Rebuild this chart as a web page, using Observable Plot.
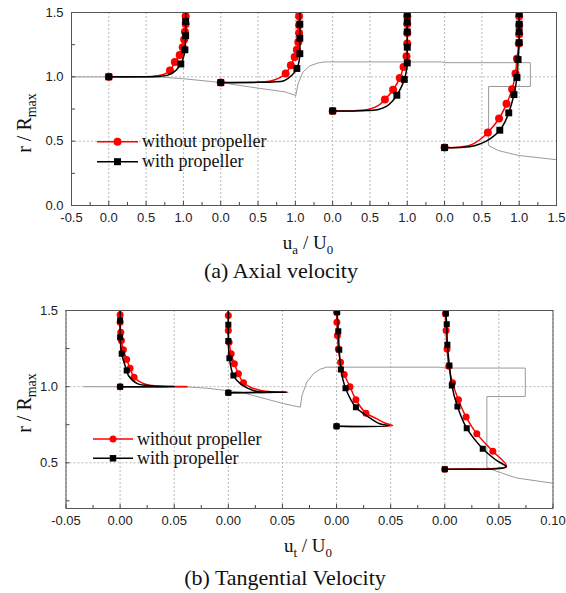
<!DOCTYPE html>
<html><head><meta charset="utf-8">
<script src="https://cdn.jsdelivr.net/npm/d3@7"></script>
<script src="https://cdn.jsdelivr.net/npm/@observablehq/plot@0.6"></script>
<style>
body{margin:0;background:#fff;}
#wrap{position:relative;width:566px;height:593px;overflow:hidden;background:#fff;}
#wrap .panel{position:absolute;left:0;}
#overlay{position:absolute;left:0;top:0;pointer-events:none;}
#overlay text{font-family:'Liberation Serif','Times New Roman',serif;fill:#111;}
</style></head><body><div id="wrap"></div>
<script>
// ---------- tick values & labels ----------
const xTicksA = [-0.5, 0, 0.5, 1.0, 1.5, 2.0, 2.5, 3.0, 3.5, 4.0, 4.5, 5.0, 5.5, 6.0];
const xLabelsA = ["-0.5","0.0","0.5","1.0","0.0","0.5","1.0","0.0","0.5","1.0","0.0","0.5","1.0","1.5"];
const xMinorA = [-0.25,0.25,0.75,1.25,1.75,2.25,2.75,3.25,3.75,4.25,4.75,5.25,5.75];
const yTicksA = [0, 0.5, 1.0, 1.5];
const yMinorA = [0.25, 0.75, 1.25];
const xTicksB = [-0.05, 0, 0.05, 0.10, 0.15, 0.20, 0.25, 0.30, 0.35, 0.40];
const xLabelsB = ["-0.05","0.00","0.05","0.00","0.05","0.00","0.05","0.00","0.05","0.10"];
const xMinorB = [-0.025,0.025,0.075,0.125,0.175,0.225,0.275,0.325,0.375];
const yTicksB = [0.5, 1.0, 1.5];
const yMinorB = [0.25, 0.75, 1.25];

// station origins along each panel's x axis
const stationA = [0, 1.5, 3.0, 4.5];
const stationB = [0, 0.1, 0.2, 0.3];

// ---------- (a) axial velocity: [station, u_a/U0, r/Rmax, marker] ----------
const axialWithout = [
 [0,0,1.0,1],[0,0.4,1.0,0],[0,0.6,1.005,0],[0,0.74,1.02,0],[0,0.82,1.05,1],[0,0.885,1.115,1],[0,0.95,1.17,1],[0,0.99,1.23,1],[0,1.01,1.29,1],[0,1.02,1.35,1],[0,1.03,1.41,1],[0,1.03,1.47,1],[0,1.03,1.5,0],
 [1,0,0.955,1],[1,0.45,0.957,0],[1,0.65,0.965,0],[1,0.78,0.99,0],[1,0.87,1.025,1],[1,0.94,1.09,1],[1,0.99,1.155,1],[1,1.02,1.21,1],[1,1.04,1.27,1],[1,1.05,1.34,1],[1,1.05,1.40,1],[1,1.05,1.47,1],[1,1.05,1.5,0],
 [2,0,0.735,1],[2,0.3,0.737,0],[2,0.5,0.75,0],[2,0.62,0.78,0],[2,0.70,0.823,1],[2,0.81,0.90,1],[2,0.90,0.99,1],[2,0.95,1.077,1],[2,0.99,1.16,1],[2,1.0,1.26,1],[2,1.0,1.34,1],[2,1.0,1.41,1],[2,1.0,1.47,1],[2,1.0,1.5,0],
 [3,0,0.45,1],[3,0.18,0.452,0],[3,0.35,0.47,0],[3,0.48,0.515,0],[3,0.58,0.567,1],[3,0.73,0.676,1],[3,0.83,0.79,1],[3,0.905,0.904,1],[3,0.95,1.025,1],[3,0.97,1.14,1],[3,0.995,1.26,1],[3,1.0,1.33,1],[3,1.0,1.40,1],[3,1.0,1.47,1],[3,1.0,1.5,0]
];
const axialWith = [
 [0,0,1.0,1],[0,0.4,1.0,0],[0,0.65,1.002,0],[0,0.8,1.015,0],[0,0.9,1.05,0],[0,0.965,1.10,1],[0,1.0,1.15,0],[0,1.02,1.21,1],[0,1.03,1.32,1],[0,1.03,1.43,1],[0,1.03,1.5,0],
 [1,0,0.955,1],[1,0.5,0.957,0],[1,0.7,0.96,0],[1,0.85,0.97,0],[1,0.95,1.01,0],[1,1.02,1.065,1],[1,1.05,1.12,0],[1,1.06,1.18,1],[1,1.06,1.30,1],[1,1.06,1.41,1],[1,1.06,1.5,0],
 [2,0,0.735,1],[2,0.4,0.737,0],[2,0.6,0.745,0],[2,0.72,0.77,0],[2,0.8,0.81,0],[2,0.86,0.857,1],[2,0.92,0.92,0],[2,0.96,0.98,1],[2,0.99,1.05,0],[2,1.0,1.108,1],[2,1.0,1.23,1],[2,1.0,1.35,1],[2,1.0,1.427,1],[2,1.0,1.486,1],[2,1.0,1.5,0],
 [3,0,0.45,1],[3,0.25,0.452,0],[3,0.4,0.465,0],[3,0.54,0.495,0],[3,0.65,0.535,0],[3,0.74,0.585,1],[3,0.81,0.65,0],[3,0.86,0.72,1],[3,0.93,0.862,1],[3,0.97,0.995,1],[3,0.985,1.134,1],[3,1.0,1.266,1],[3,1.0,1.35,1],[3,1.0,1.41,1],[3,1.0,1.49,1],[3,1.0,1.5,0]
];
// hull / propeller outline in panel (a) x units: [x, r/Rmax]
const hullA = [
 [-0.5,1.0],[0.7,0.998],[1.0,0.985],[1.47,0.958],[2.0,0.912],[2.36,0.883],[2.506,0.855],[2.537,0.948],[2.604,1.038],[2.694,1.085],[2.805,1.108],[2.895,1.116],[4.46,1.116],[4.5,1.11],[5.65,1.11],[5.65,0.925],[5.09,0.925],[5.09,0.466],[5.22,0.427],[5.49,0.389],[6.0,0.356]
];

// ---------- (b) tangential velocity: [station, u_t/U0, r/Rmax, marker] ----------
const tangWithout = [
 [0,0,1.0,1],[0,0.062,1.0,0],[0,0.04,1.003,0],[0,0.025,1.012,0],[0,0.0129,1.062,1],[0,0.0092,1.121,1],[0,0.0061,1.178,1],[0,0.003,1.242,1],[0,0.0012,1.303,1],[0,0.0006,1.358,1],[0,0.0,1.423,1],[0,0.0,1.472,1],[0,0.0,1.5,0],
 [1,0,0.96,1],[1,0.055,0.963,0],[1,0.04,0.966,0],[1,0.03,0.975,0],[1,0.02,0.998,0],[1,0.014,1.025,1],[1,0.0093,1.084,1],[1,0.0056,1.15,1],[1,0.0026,1.216,1],[1,0.0007,1.292,1],[1,0.0,1.369,1],[1,0.0,1.467,1],[1,0.0,1.5,0],
 [2,0,0.74,1],[2,0.052,0.745,0],[2,0.045,0.76,0],[2,0.037,0.79,0],[2,0.0272,0.826,1],[2,0.0179,0.914,1],[2,0.0124,1.0,1],[2,0.0071,1.08,1],[2,0.0037,1.161,1],[2,0.0016,1.248,1],[2,0.0008,1.336,1],[2,0.0003,1.423,1],[2,0.0,1.489,1],[2,0.0,1.5,0],
 [3,0,0.458,1],[3,0.02,0.46,0],[3,0.045,0.463,0],[3,0.057,0.478,0],[3,0.0444,0.576,1],[3,0.0296,0.69,1],[3,0.0197,0.80,1],[3,0.0126,0.914,1],[3,0.0072,1.025,1],[3,0.0037,1.134,1],[3,0.0021,1.248,1],[3,0.0012,1.369,1],[3,0.0006,1.478,1],[3,0.0006,1.5,0]
];
const tangWith = [
 [0,0,1.0,1],[0,0.05,1.0,0],[0,0.03,1.005,0],[0,0.016,1.02,0],[0,0.008,1.07,0],[0,0.0061,1.106,1],[0,0.0015,1.216,1],[0,0.0,1.325,1],[0,0.0,1.434,1],[0,0.0,1.5,0],
 [1,0,0.96,1],[1,0.054,0.963,0],[1,0.035,0.966,0],[1,0.023,0.975,0],[1,0.011,1.02,0],[1,0.0047,1.073,1],[1,0.001,1.187,1],[1,0.0,1.30,1],[1,0.0,1.406,1],[1,0.0,1.5,0],
 [2,0,0.74,1],[2,0.049,0.743,0],[2,0.04,0.756,0],[2,0.0277,0.81,0],[2,0.0179,0.865,1],[2,0.0083,0.99,1],[2,0.004,1.113,1],[2,0.0025,1.242,1],[2,0.0016,1.364,1],[2,0.0006,1.489,1],[2,0.0006,1.5,0],
 [3,0,0.458,1],[3,0.03,0.458,0],[3,0.05,0.462,0],[3,0.0567,0.474,0],[3,0.047,0.52,0],[3,0.0351,0.592,1],[3,0.0203,0.727,1],[3,0.0117,0.87,1],[3,0.0065,1.008,1],[3,0.0043,1.139,1],[3,0.0024,1.275,1],[3,0.0018,1.41,1],[3,0.001,1.48,1],[3,0.001,1.5,0]
];
const hullB = [
 [-0.0335,1.0],[0.062,0.998],[0.08,0.99],[0.1113,0.964],[0.1513,0.888],[0.1665,0.865],[0.168,0.94],[0.1725,1.03],[0.1787,1.085],[0.185,1.115],[0.191,1.128],[0.2958,1.128],[0.3,1.122],[0.3744,1.122],[0.3744,0.935],[0.3389,0.935],[0.3389,0.471],[0.3482,0.443],[0.3666,0.40],[0.40,0.366]
];

function panel(o) {
  const W = 566;
  const pw = W - o.ml - o.mr, ph = o.height - o.mt - o.mb;
  const conv = rows => rows.map(([s,u,r,m]) => ({x: o.stations[s] + u, r, s, m}));
  const withP = conv(o.withP), withoutP = conv(o.withoutP);
  const hull = o.hull.map(([x,r]) => ({x, r}));
  return Plot.plot({
    width: W, height: o.height,
    marginLeft: o.ml, marginRight: o.mr, marginTop: o.mt, marginBottom: o.mb,
    x: {domain: o.xDomain},
    y: {domain: o.yDomain},
    style: {fontFamily: "'Liberation Sans', Arial, sans-serif", fontSize: "13px", color: "#222", background: "transparent"},
    marks: [
      Plot.gridX(o.xTicks, {stroke: "#b8b8b8", strokeOpacity: 1, strokeDasharray: "2,2"}),
      Plot.gridY(o.yTicks, {stroke: "#b8b8b8", strokeOpacity: 1, strokeDasharray: "2,2"}),
      Plot.line(hull, {x: "x", y: "r", stroke: "#9a9a9a", strokeWidth: 1, clip: true}),
      Plot.line(withoutP, {x: "x", y: "r", z: "s", stroke: "#ff0000", strokeWidth: 1.5, curve: "catmull-rom", clip: true}),
      Plot.dot(withoutP.filter(d => d.m), {x: "x", y: "r", r: o.rc, fill: "#ff0000", symbol: "circle", clip: true}),
      Plot.line(withP, {x: "x", y: "r", z: "s", stroke: "#000", strokeWidth: 1.5, curve: "catmull-rom", clip: true}),
      Plot.dot(withP.filter(d => d.m), {x: "x", y: "r", r: o.rs, fill: "#000", symbol: "square", clip: true}),
      Plot.tickX(o.xTicks, {insetTop: ph - 4, stroke: "#444"}),
      Plot.tickX(o.xMinor, {insetTop: ph - 3, stroke: "#444"}),
      Plot.tickY(o.yTicks, {insetRight: pw - 4, stroke: "#444"}),
      Plot.tickY(o.yMinor, {insetRight: pw - 4, stroke: "#444"}),
      Plot.axisX({ticks: o.xTicks, tickSize: 0, tickPadding: 7, tickFormat: d => o.xLabels[o.xTicks.indexOf(d)], label: null}),
      Plot.axisY({ticks: o.yTicks, tickSize: 0, tickPadding: 8, tickFormat: d3.format(".1f"), label: null}),
      Plot.frame({stroke: "#555"})
    ]
  });
}

const wrap = document.getElementById("wrap");
const pa = panel({stations: stationA, xDomain: [-0.5, 6.0], yDomain: [0, 1.5], xTicks: xTicksA, xLabels: xLabelsA, xMinor: xMinorA,
  yTicks: yTicksA, yMinor: yMinorA, hull: hullA, withP: axialWith, withoutP: axialWithout,
  height: 235, ml: 71, mr: 10, mt: 12, mb: 30, rc: 4, rs: 3.9});
pa.classList.add("panel"); pa.style.top = "0px";
wrap.appendChild(pa);
const pb = panel({stations: stationB, xDomain: [-0.05, 0.40], yDomain: [0.2, 1.5], xTicks: xTicksB, xLabels: xLabelsB, xMinor: xMinorB,
  yTicks: yTicksB, yMinor: yMinorB, hull: hullB, withP: tangWith, withoutP: tangWithout,
  height: 240, ml: 65.5, mr: 13.5, mt: 12, mb: 30, rc: 3.5, rs: 3.4});
pb.classList.add("panel"); pb.style.top = "298px";
wrap.appendChild(pb);

// ---------- overlay: axis titles, captions, legends ----------
const legendNames = ["without propeller", "with propeller"];
const captions = ["(a) Axial velocity", "(b) Tangential Velocity"];
const ns = "http://www.w3.org/2000/svg";
const ov = document.createElementNS(ns, "svg");
ov.setAttribute("id", "overlay"); ov.setAttribute("width", 566); ov.setAttribute("height", 593);
function el(tag, attrs, parent) {
  const e = document.createElementNS(ns, tag);
  for (const k in attrs) e.setAttribute(k, attrs[k]);
  (parent || ov).appendChild(e); return e;
}
function ylabel(cy) {
  const t = el("text", {transform: `translate(31,${cy}) rotate(-90)`, "text-anchor": "middle", "font-size": 20});
  t.appendChild(document.createTextNode("r / R"));
  const s = el("tspan", {"font-size": 14, dy: 5}, t); s.textContent = "max";
}
function xlabel(cx, cy, sub) {
  const t = el("text", {x: cx, y: cy, "text-anchor": "middle", "font-size": 19});
  t.appendChild(document.createTextNode("u"));
  const s1 = el("tspan", {"font-size": 13, dy: 5}, t); s1.textContent = sub;
  const s2 = el("tspan", {dy: -5}, t); s2.textContent = " / U";
  const s3 = el("tspan", {"font-size": 13, dy: 5}, t); s3.textContent = "0";
}
function caption(cx, cy, txt) {
  const t = el("text", {x: cx, y: cy, "text-anchor": "middle", "font-size": 22}); t.textContent = txt;
}
function legend(x0, x1, y1, y2, tx, fs, rc, sq) {
  const mx = (x0 + x1) / 2;
  el("line", {x1: x0, x2: x1, y1: y1, y2: y1, stroke: "#ff0000", "stroke-width": 1.5});
  el("circle", {cx: mx, cy: y1, r: rc, fill: "#ff0000"});
  const a = el("text", {x: tx, y: y1 + 5.5, "font-size": fs}); a.textContent = legendNames[0];
  el("line", {x1: x0, x2: x1, y1: y2, y2: y2, stroke: "#000", "stroke-width": 1.5});
  el("rect", {x: mx - sq / 2, y: y2 - sq / 2, width: sq, height: sq, fill: "#000"});
  const b = el("text", {x: tx, y: y2 + 5.5, "font-size": fs}); b.textContent = legendNames[1];
}
ylabel(123);
xlabel(308, 249, "a");
caption(281, 278, captions[0]);
legend(97, 138, 141.7, 161.7, 142, 18, 4, 7);
ylabel(403);
xlabel(308, 552, "t");
caption(285, 585, captions[1]);
legend(93, 133, 439, 458.3, 137, 18, 3.5, 6.5);
wrap.appendChild(ov);
</script></body></html>
